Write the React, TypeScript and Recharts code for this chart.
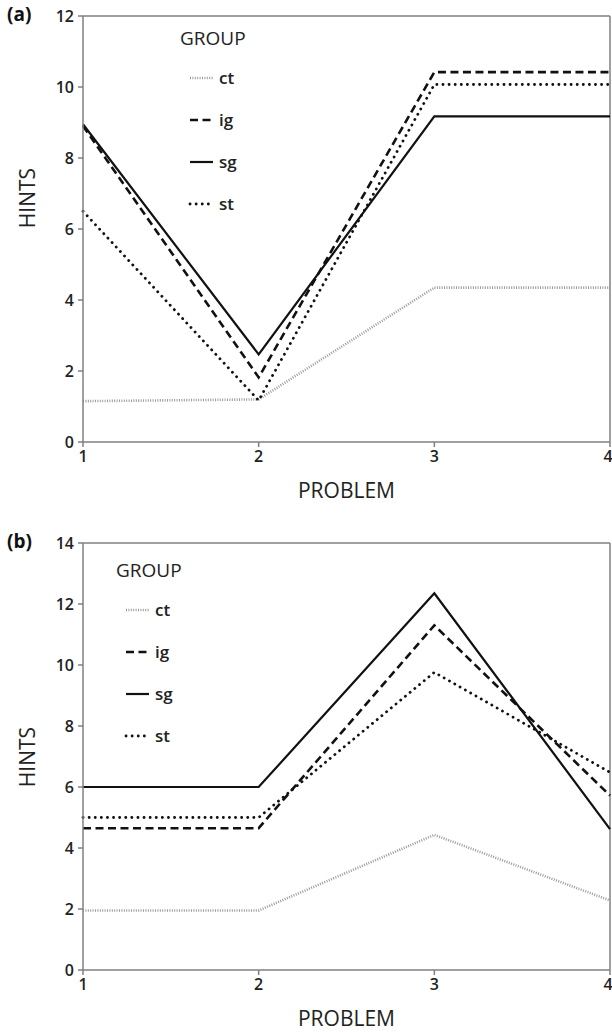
import { LineChart, Line, XAxis, YAxis, ReferenceLine } from 'recharts';

// problems on the x axis
const problems = [1, 2, 3, 4];

// panel (a) hints per group
const ctA = [1.15, 1.2, 4.35, 4.35];
const igA = [8.9, 1.82, 10.42, 10.42];
const sgA = [8.95, 2.47, 9.17, 9.17];
const stA = [6.5, 1.17, 10.07, 10.07];

// panel (b) hints per group
const ctB = [1.95, 1.95, 4.43, 2.28];
const igB = [4.65, 4.65, 11.3, 5.72];
const sgB = [6.0, 6.0, 12.35, 4.62];
const stB = [5.0, 5.0, 9.76, 6.48];

const ticksA = [0, 2, 4, 6, 8, 10, 12];
const ticksB = [0, 2, 4, 6, 8, 10, 12, 14];

const FONT = '"Open Sans", "DejaVu Sans", sans-serif';
const AXIS = '#808080';

const SERIES = [
  { key: 'ct', stroke: '#9a9a9a', width: 2.6, dash: '1 1.4', cap: 'butt' },
  { key: 'ig', stroke: '#111', width: 2.6, dash: '8 4.5', cap: 'butt' },
  { key: 'sg', stroke: '#111', width: 2.2, dash: undefined, cap: 'butt' },
  { key: 'st', stroke: '#111', width: 2.8, dash: '0.1 6', cap: 'round' },
] as const;

const buildRows = (ct: number[], ig: number[], sg: number[], st: number[]) =>
  problems.map((p, i) => ({ problem: p, ct: ct[i], ig: ig[i], sg: sg[i], st: st[i] }));

const dataA = buildRows(ctA, igA, sgA, stA);
const dataB = buildRows(ctB, igB, sgB, stB);

// legend drawn as an overlay so it doesn't eat into the plot area
const GroupLegend = ({ left, top }: { left: number; top: number }) => (
  <svg
    width={110}
    height={200}
    style={{ position: 'absolute', left, top, overflow: 'visible' }}
  >
    <text x={0} y={21} fontSize={19} fontFamily={FONT} fill="#222">GROUP</text>
    {SERIES.map((s, i) => {
      const y = 54 + i * 42;
      return (
        <g key={s.key}>
          <line
            x1={10}
            x2={33}
            y1={y}
            y2={y}
            stroke={s.stroke}
            strokeWidth={s.width}
            strokeDasharray={s.dash}
            strokeLinecap={s.cap}
          />
          <text x={39} y={y + 6} fontSize={17} fontWeight={600} fontFamily={FONT} fill="#222">
            {s.key}
          </text>
        </g>
      );
    })}
  </svg>
);

interface PanelProps {
  data: typeof dataA;
  ticks: number[];
  height: number;
  top: number;
  hintsY: number;
}

const Panel = ({ data, ticks, height, top, hintsY }: PanelProps) => {
  const yMax = ticks[ticks.length - 1];
  return (
    <LineChart
      width={612}
      height={height}
      data={data}
      margin={{ top, right: 2, bottom: 0, left: 0 }}
    >
      <XAxis
        dataKey="problem"
        type="number"
        domain={[1, 4]}
        ticks={problems}
        height={64}
        stroke={AXIS}
        strokeWidth={1.5}
        tickSize={5}
        tickMargin={4}
        tick={{ fill: '#222', fontSize: 16, fontWeight: 600, fontFamily: FONT }}
        label={{
          value: 'PROBLEM',
          position: 'insideBottom',
          offset: 8,
          fill: '#222',
          fontSize: 21,
          fontFamily: FONT,
        }}
      />
      <YAxis
        type="number"
        domain={[0, yMax]}
        ticks={ticks}
        width={83}
        stroke={AXIS}
        strokeWidth={1.5}
        tickSize={5}
        tickMargin={4}
        tick={{ fill: '#222', fontSize: 16, fontWeight: 600, fontFamily: FONT }}
        label={{
          content: () => (
            <text
              x={27}
              y={hintsY}
              transform={`rotate(-90, 27, ${hintsY})`}
              textAnchor="middle"
              dominantBaseline="central"
              fontSize={21}
              fontFamily={FONT}
              fill="#222"
            >
              HINTS
            </text>
          ),
        }}
      />
      <ReferenceLine y={yMax} stroke={AXIS} strokeWidth={1.5} />
      <ReferenceLine x={4} stroke={AXIS} strokeWidth={1.5} />
      {SERIES.map((s) => (
        <Line
          key={s.key}
          dataKey={s.key}
          stroke={s.stroke}
          strokeWidth={s.width}
          strokeDasharray={s.dash}
          strokeLinecap={s.cap}
          strokeLinejoin="miter"
          dot={false}
          activeDot={false}
          isAnimationActive={false}
        />
      ))}
    </LineChart>
  );
};

const PanelTag = ({ text, top }: { text: string; top: number }) => (
  <div
    style={{
      position: 'absolute',
      left: 7,
      top,
      fontFamily: FONT,
      fontWeight: 700,
      fontSize: 19,
      color: '#111',
    }}
  >
    {text}
  </div>
);

export default function App() {
  return (
    <div style={{ position: 'absolute', left: 0, top: 0, width: 612, height: 1033, background: '#fff' }}>
      <div style={{ position: 'absolute', left: 0, top: 0 }}>
        <Panel data={dataA} ticks={ticksA} height={506} top={16} hintsY={198} />
      </div>
      <div style={{ position: 'absolute', left: 0, top: 530 }}>
        <Panel data={dataB} ticks={ticksB} height={504} top={13} hintsY={227} />
      </div>
      <GroupLegend left={180} top={24} />
      <GroupLegend left={116} top={556} />
      <PanelTag text="(a)" top={1} />
      <PanelTag text="(b)" top={528} />
    </div>
  );
}
